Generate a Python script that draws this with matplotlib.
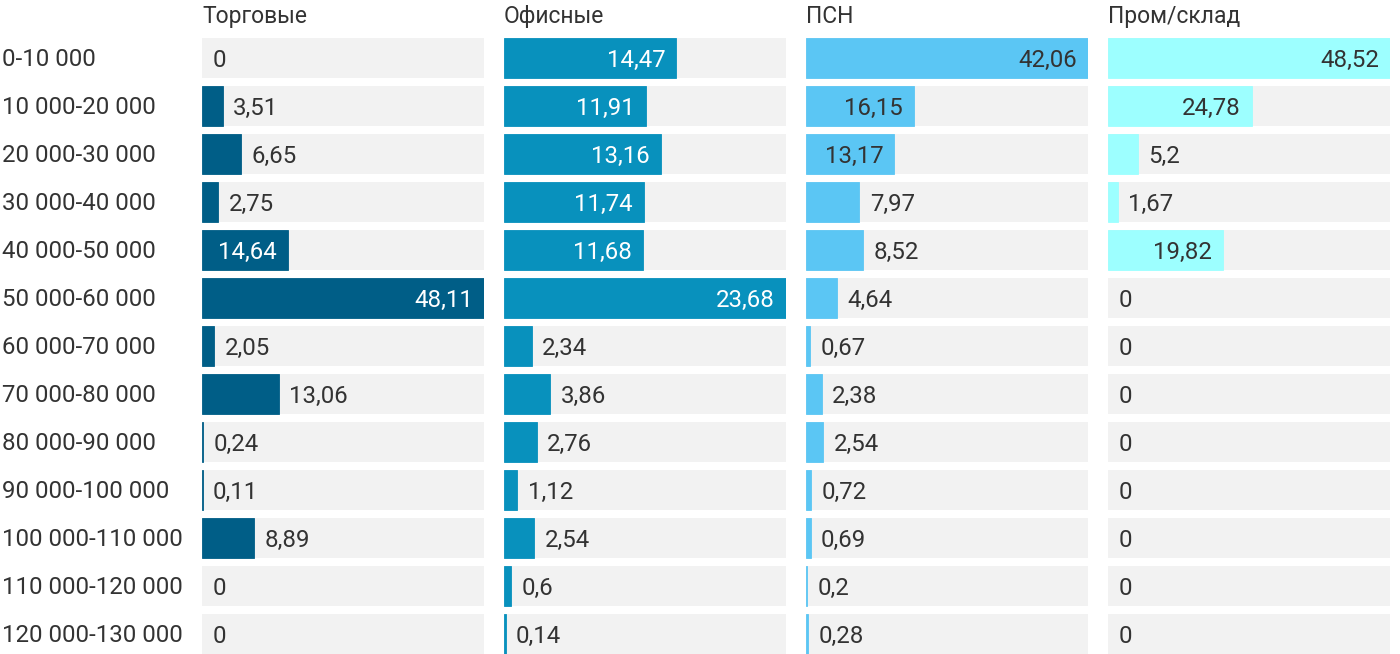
import matplotlib.pyplot as plt

plt.rcParams['font.family'] = ['Roboto', 'DejaVu Sans']

categories = ['0-10 000', '10 000-20 000', '20 000-30 000', '30 000-40 000',
              '40 000-50 000', '50 000-60 000', '60 000-70 000', '70 000-80 000',
              '80 000-90 000', '90 000-100 000', '100 000-110 000',
              '110 000-120 000', '120 000-130 000']

titles = ['Торговые', 'Офисные', 'ПСН', 'Пром/склад']

trade = [0, 3.51, 6.65, 2.75, 14.64, 48.11, 2.05, 13.06, 0.24, 0.11, 8.89, 0, 0]
office = [14.47, 11.91, 13.16, 11.74, 11.68, 23.68, 2.34, 3.86, 2.76, 1.12, 2.54, 0.6, 0.14]
psn = [42.06, 16.15, 13.17, 7.97, 8.52, 4.64, 0.67, 2.38, 2.54, 0.72, 0.69, 0.2, 0.28]
prom = [48.52, 24.78, 5.2, 1.67, 19.82, 0, 0, 0, 0, 0, 0, 0, 0]

series = [trade, office, psn, prom]
colors = ['#005e87', '#0891bd', '#5bc6f4', '#9dffff']
inside_text = ['white', 'white', '#333333', '#333333']

W, H = 1400, 654
fig = plt.figure(figsize=(W / 100, H / 100), dpi=100)

n = len(categories)
panel_left = [202, 504, 806, 1108]
panel_w = 282
top = 38
fs = 17.3
txt = '#333333'

def fmt(v):
    s = ('%g' % v).replace('.', ',')
    return s

for k in range(4):
    ax = fig.add_axes([panel_left[k] / W, 0, panel_w / W, (H - top) / H])
    vals = series[k]
    vmax = max(vals)
    ys = list(range(n))
    ax.barh(ys, [vmax] * n, height=40 / 48, color='#f2f2f2', linewidth=0)
    nz = [(i, v) for i, v in enumerate(vals) if v > 0]
    ax.barh([i for i, v in nz], [v for i, v in nz], height=40 / 48,
            color=colors[k], edgecolor=colors[k], linewidth=0.6)
    ax.set_xlim(0, vmax)
    ax.set_ylim(n - 1 + 20 / 48, -20 / 48)
    ax.axis('off')
    for i, v in enumerate(vals):
        px = v / vmax * panel_w
        if px > 80:
            ax.annotate(fmt(v), (v, i), xytext=(-8, -1.5), textcoords='offset points',
                        ha='right', va='center', fontsize=fs, color=inside_text[k])
        else:
            ax.annotate(fmt(v), (v, i), xytext=(7.5, -1.5), textcoords='offset points',
                        ha='left', va='center', fontsize=fs, color=txt)
    fig.text(panel_left[k] / W, 1 - 23 / H, titles[k], ha='left', va='baseline',
             fontsize=16.5, color=txt)

for i, c in enumerate(categories):
    y = 1 - (top + 22 + 48 * i) / H
    fig.text(2 / W, y, c, ha='left', va='center', fontsize=fs, color=txt)

fig.savefig('out.png', dpi=100, facecolor='white')
